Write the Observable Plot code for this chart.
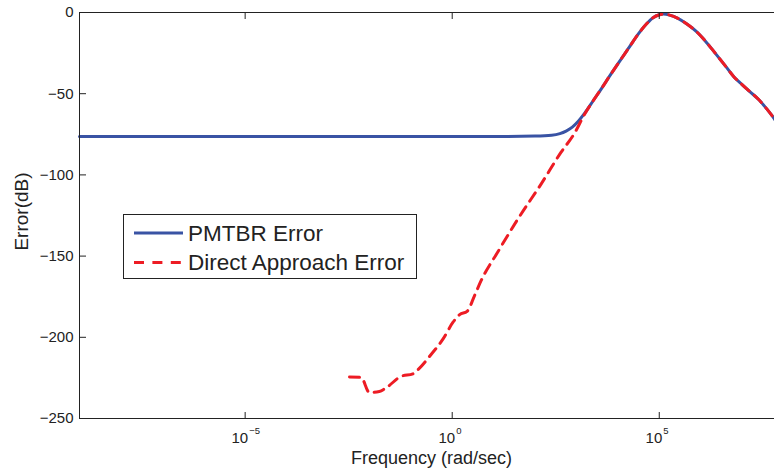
<!DOCTYPE html>
<html><head><meta charset="utf-8">
<script src="https://cdn.jsdelivr.net/npm/d3@7"></script>
<script src="https://cdn.jsdelivr.net/npm/@observablehq/plot@0.6"></script>
<style>
html,body{margin:0;padding:0;background:#fff;overflow:hidden;}
#wrap{position:relative;width:774px;height:473px;overflow:hidden;font-family:"Liberation Sans",Arial,sans-serif;}
#legend{position:absolute;left:123px;top:214px;width:292px;height:63px;border:1px solid #222;background:#fff;}
#legend svg{position:absolute;left:0;top:0;}
#legend .lab{position:absolute;left:64px;font-size:22.5px;color:#222;white-space:nowrap;line-height:1;}
</style></head><body><div id="wrap"></div>
<script>
// ---- data ----
const pmtbrLogFreq = [-9, -6, -3, 0, 1, 2, 2.4, 2.6, 2.75, 2.9, 3.05, 3.2, 3.4, 3.6, 3.8, 4.0, 4.25, 4.5, 4.7, 4.85, 5.0, 5.1, 5.25, 5.45, 5.65, 5.9, 6.1, 6.35, 6.6, 6.8, 7.0, 7.2, 7.4, 7.6, 7.75, 7.85, 7.95];
const pmtbrErrorDb = [-76.4, -76.4, -76.4, -76.4, -76.4, -76.1, -75.6, -74.6, -73, -70.6, -66.8, -62, -54.5, -47, -39.2, -31.6, -22.3, -13, -6.8, -3.2, -1.4, -1.0, -1.6, -3.6, -6.8, -11.8, -17.2, -25, -33, -39.5, -44.4, -49, -53.6, -59.5, -64.5, -68.5, -73];
const directLogFreq = [-2.48, -2.2, -2.0, -1.76, -1.59, -1.23, -0.95, -0.83, -0.51, -0.22, 0.02, 0.18, 0.36, 0.54, 0.70, 1.1, 1.59, 2.15, 2.63, 2.95, 3.2, 3.4, 3.6, 3.8, 4.0, 4.25, 4.5, 4.7, 4.85, 5.0, 5.1, 5.25, 5.45, 5.65, 5.9, 6.1, 6.35, 6.6, 6.8, 7.0, 7.2, 7.4, 7.6, 7.75, 7.85, 7.95];
const directErrorDb = [-224.5, -224.7, -234, -233.4, -231, -224, -222.5, -220, -210.6, -201, -190.7, -186, -184, -174.3, -165, -147.5, -127, -105.5, -86, -74.5, -62.5, -54.5, -47, -39.2, -31.6, -22.3, -13, -6.8, -3.2, -1.4, -1.0, -1.6, -3.6, -6.8, -11.8, -17.2, -25, -33, -39.5, -44.4, -49, -53.6, -59.5, -64.5, -68.5, -73];
const xTickValues = [1e-5, 1, 1e5];
const xTickBase = ["10", "10", "10"];
const xTickExponents = ["−5", "0", "5"];
const yTickValues = [0, -50, -100, -150, -200, -250];
const yTickLabels = ["0", "−50", "−100", "−150", "−200", "−250"];
const seriesNames = ["PMTBR Error", "Direct Approach Error"];
const seriesColors = ["#3953a4", "#ed1c24"];
const xLabel = "Frequency (rad/sec)";
const yLabel = "Error(dB)";

const pmtbr = pmtbrLogFreq.map((l, i) => ({f: Math.pow(10, l), e: pmtbrErrorDb[i]}));
const direct = directLogFreq.map((l, i) => ({f: Math.pow(10, l), e: directErrorDb[i]}));

const ink = "#222";
const chart = Plot.plot({
  width: 774, height: 473,
  marginLeft: 79, marginRight: -9, marginTop: 12, marginBottom: 55,
  style: {fontFamily: "'Liberation Sans', Arial, sans-serif", fontSize: "15px", color: ink, background: "#fff"},
  x: {type: "log", domain: [1e-9, 1e8]},
  y: {domain: [-250, 0]},
  marks: [
    Plot.line(pmtbr, {x: "f", y: "e", stroke: seriesColors[0], strokeWidth: 3, curve: "monotone-x"}),
    Plot.line(direct, {x: "f", y: "e", stroke: seriesColors[1], strokeWidth: 3, strokeDasharray: "10,7", curve: "monotone-x"}),
    Plot.frame({stroke: ink, strokeWidth: 1}),
    // inward tick marks only
    Plot.axisY({ticks: yTickValues, tickSize: -7, tickFormat: () => "", label: null, stroke: ink}),
    Plot.axisX({ticks: xTickValues, tickSize: -6, tickFormat: () => "", label: null, stroke: ink}),
    Plot.axisX({anchor: "top", ticks: xTickValues, tickSize: -6, tickFormat: () => "", label: null, stroke: ink}),
    // tick labels
    Plot.text(yTickValues, {y: d => d, text: (d, i) => yTickLabels[i], frameAnchor: "left", dx: -6, textAnchor: "end", lineAnchor: "middle", fontSize: 15, fill: ink}),
    Plot.text(xTickValues, {x: d => d, text: (d, i) => xTickBase[i], frameAnchor: "bottom", dy: 24, dx: 3, textAnchor: "end", lineAnchor: "bottom", fontSize: 15, fill: ink}),
    Plot.text(xTickValues, {x: d => d, text: (d, i) => xTickExponents[i], frameAnchor: "bottom", dy: 15, dx: 4, textAnchor: "start", lineAnchor: "bottom", fontSize: 9.5, fill: ink}),
    Plot.text([xLabel], {frameAnchor: "bottom", dy: 45, textAnchor: "middle", lineAnchor: "bottom", fontSize: 18, fill: ink}),
    Plot.text([yLabel], {frameAnchor: "left", rotate: -90, dx: -52, dy: -4, textAnchor: "middle", lineAnchor: "bottom", fontSize: 19, fill: ink})
  ]
});
const wrap = document.getElementById("wrap");
wrap.appendChild(chart);

// legend
const leg = document.createElement("div");
leg.id = "legend";
leg.innerHTML = `<svg width="292" height="63">
  <line x1="10" x2="59" y1="18" y2="18" stroke="${seriesColors[0]}" stroke-width="3"/>
  <line x1="10" x2="59" y1="47.5" y2="47.5" stroke="${seriesColors[1]}" stroke-width="3" stroke-dasharray="10,8.4"/>
</svg>
<div class="lab" style="top:8px">${seriesNames[0]}</div>
<div class="lab" style="top:37px">${seriesNames[1]}</div>`;
wrap.appendChild(leg);
</script>
</body></html>
